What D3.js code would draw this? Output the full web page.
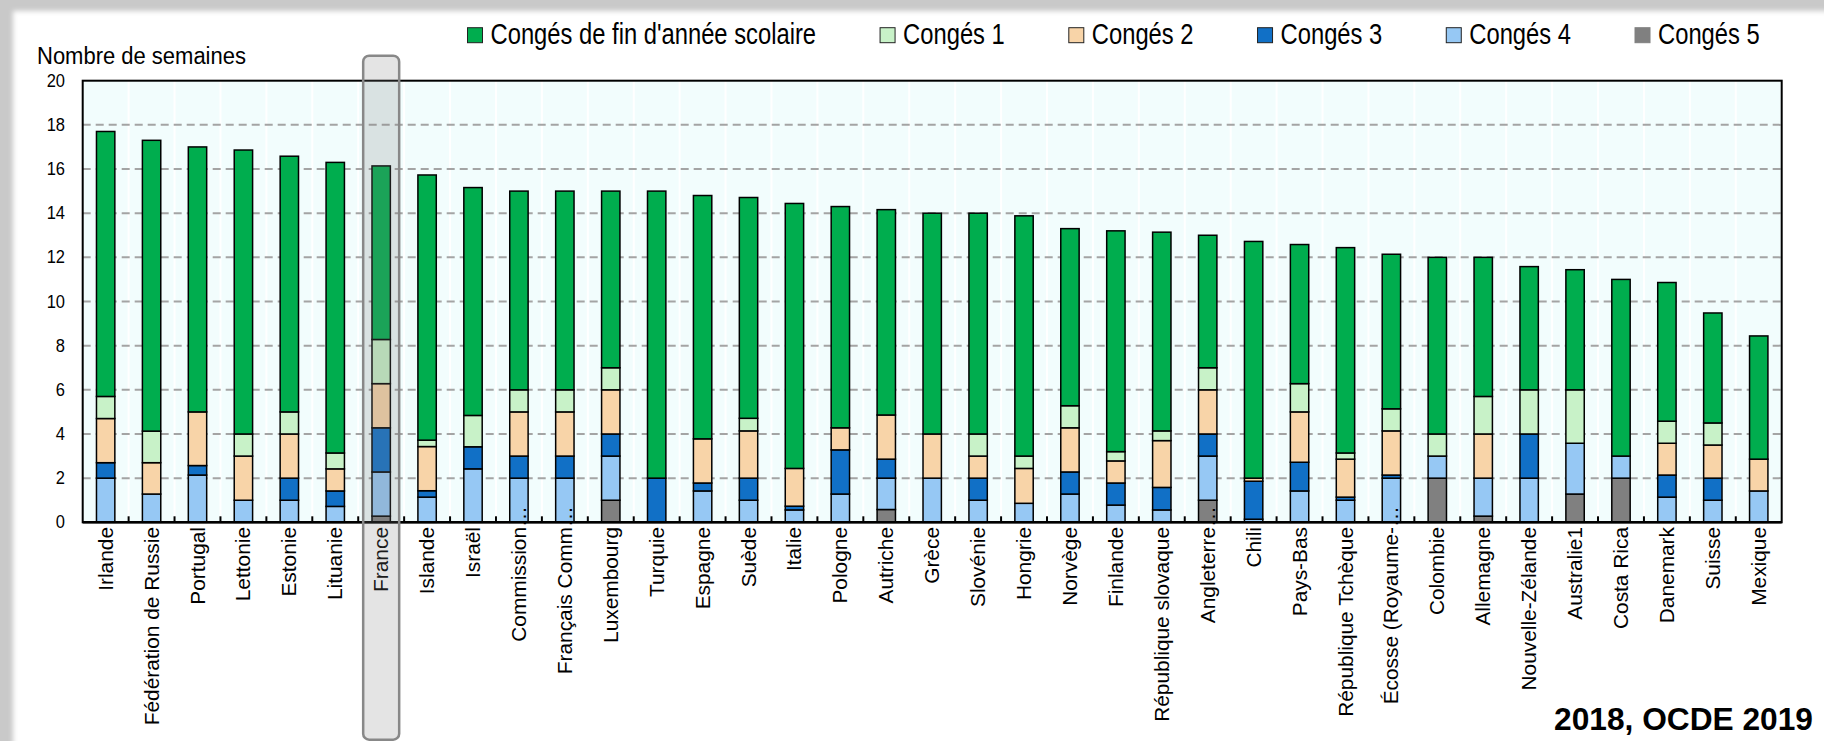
<!DOCTYPE html>
<html>
<head>
<meta charset="utf-8">
<script src="https://cdn.jsdelivr.net/npm/d3@7"></script>
<style>
  body { margin: 0; background: #fff; }
  svg { display: block; font-family: "Liberation Sans", Arial, sans-serif; }
</style>
</head>
<body>
<div id="chart"></div>
<script>
// data (weeks); stacked bottom -> top: c5, c4, c3, c2, c1, fin
var countries = ["Irlande", "Fédération de Russie", "Portugal", "Lettonie", "Estonie", "Lituanie", "France",
  "Islande", "Israël", "Commission…", "Français Comm…", "Luxembourg", "Turquie", "Espagne", "Suède", "Italie",
  "Pologne", "Autriche", "Grèce", "Slovénie", "Hongrie", "Norvège", "Finlande", "République slovaque",
  "Angleterre…", "Chili", "Pays-Bas", "République Tchèque", "Écosse (Royaume-…", "Colombie", "Allemagne",
  "Nouvelle-Zélande", "Australie1", "Costa Rica", "Danemark", "Suisse", "Mexique"];

var conges5 = [0, 0, 0, 0, 0, 0, 0.28, 0, 0, 0, 0, 1, 0, 0, 0, 0, 0, 0.58, 0, 0, 0, 0, 0, 0,
  1, 0, 0, 0, 0, 2, 0.28, 0, 1.28, 2, 0, 0, 0];
var conges4 = [2, 1.28, 2.14, 1, 1, 0.72, 2, 1.14, 2.42, 2, 2, 2, 0, 1.42, 1, 0.56, 1.28, 1.42, 2, 1, 0.86, 1.28, 0.78, 0.56,
  2, 0.14, 1.42, 1, 2, 1, 1.72, 2, 2.3, 1, 1.14, 1, 1.42];
var conges3 = [0.7, 0, 0.43, 0, 1, 0.7, 2, 0.29, 1, 1, 1, 1, 2, 0.36, 1, 0.17, 2, 0.86, 0, 1, 0, 1, 1, 1.02,
  1, 1.72, 1.3, 0.14, 0.14, 0, 0, 2, 0, 0, 1, 1, 0];
var conges2 = [2, 1.42, 2.43, 2, 2, 1, 2, 2, 0, 2, 2, 2, 0, 2, 2.14, 1.71, 1, 2, 2, 1, 1.58, 2, 1, 2.12,
  2, 0.14, 2.28, 1.72, 2, 0, 2, 0, 0, 0, 1.44, 1.5, 1.44];
var conges1 = [1, 1.43, 0, 1, 1, 0.72, 2, 0.29, 1.42, 1, 1, 1, 0, 0, 0.57, 0, 0, 0, 0, 1, 0.56, 1, 0.42, 0.44,
  1, 0, 1.28, 0.28, 1, 1, 1.7, 2, 2.42, 0, 1, 1, 0];
var finAnnee = [12, 13.17, 12, 12.86, 11.58, 13.16, 7.86, 12.01, 10.32, 9, 9, 8, 13, 11.02, 10, 12, 10.02, 9.3, 10, 10, 10.88, 8.02, 10, 9,
  6, 10.72, 6.3, 9.3, 7, 8, 6.3, 5.58, 5.44, 8, 6.28, 4.98, 5.58];

var seriesKeys = ["c5", "c4", "c3", "c2", "c1", "fin"];
var legendKeys = ["fin", "c1", "c2", "c3", "c4", "c5"];
var seriesNames = {fin: "Congés de fin d'année scolaire", c1: "Congés 1", c2: "Congés 2",
  c3: "Congés 3", c4: "Congés 4", c5: "Congés 5"};
var seriesColors = {fin: "#00ad4e", c1: "#c8f2c8", c2: "#f8d4a8", c3: "#1170c6", c4: "#96c8f4", c5: "#808080"};
var yTicks = [0, 2, 4, 6, 8, 10, 12, 14, 16, 18, 20];
var highlight = "France";

var rows = countries.map(function(c, i) {
  return {country: c, c5: conges5[i], c4: conges4[i], c3: conges3[i], c2: conges2[i], c1: conges1[i], fin: finAnnee[i]};
});

// svg
var W = 1824, H = 741;
var plot = {left: 82.7, right: 1781.7, top: 80.7, bottom: 522.3};
var stretch = 1.07; // the source picture is slightly taller than wide

var svg = d3.select("#chart").append("svg").attr("width", W).attr("height", H);

// frame with soft grey shadow
var defs = svg.append("defs");
defs.append("filter").attr("id", "soft").attr("x", "-5%").attr("y", "-5%").attr("width", "110%").attr("height", "110%")
  .append("feGaussianBlur").attr("stdDeviation", 2.5);
svg.append("rect").attr("width", W).attr("height", H).attr("fill", "#c9c9c9");
svg.append("rect").attr("x", 13).attr("y", 11).attr("width", W + 40).attr("height", H + 40)
  .attr("fill", "#fff").attr("filter", "url(#soft)");

// scales
var x = d3.scaleBand().domain(countries).range([plot.left, plot.right]).paddingInner(0.6).paddingOuter(0.3);
var y = d3.scaleLinear().domain([0, 20]).range([plot.bottom, plot.top]);

// plot background
svg.append("rect").attr("x", plot.left).attr("y", plot.top)
  .attr("width", plot.right - plot.left).attr("height", plot.bottom - plot.top).attr("fill", "#f2fdfd");

// faint vertical separators
svg.selectAll("sepLines").data(countries.slice(1)).enter().append("line")
  .attr("x1", function(d) { return x(d) - x.step() * x.paddingInner() / 2; })
  .attr("x2", function(d) { return x(d) - x.step() * x.paddingInner() / 2; })
  .attr("y1", plot.top).attr("y2", plot.bottom)
  .attr("stroke", "#ffffff").attr("stroke-width", 2);

// grid
svg.selectAll("gridLines").data(yTicks.filter(function(t) { return t > 0 && t < 20; })).enter().append("line")
  .attr("x1", plot.left).attr("x2", plot.right)
  .attr("y1", function(d) { return y(d); }).attr("y2", function(d) { return y(d); })
  .attr("stroke", "#a4a4a4").attr("stroke-width", 2).attr("stroke-dasharray", "8,5");

// y tick labels
svg.selectAll("yLabels").data(yTicks).enter().append("text")
  .attr("transform", function(d) { return "translate(65," + (y(d) + 6) + ") scale(1," + stretch + ")"; })
  .attr("text-anchor", "end").attr("font-size", 16.5).attr("fill", "#000")
  .text(function(d) { return d; });

svg.append("text").attr("transform", "translate(37,64) scale(1," + stretch + ")")
  .attr("font-size", 22).text("Nombre de semaines");

// stacked bars
var stacked = d3.stack().keys(seriesKeys)(rows);
var layers = svg.selectAll("layers").data(stacked).enter().append("g")
  .attr("fill", function(d) { return seriesColors[d.key]; });
layers.selectAll("rect").data(function(d) { return d.filter(function(s) { return s[1] - s[0] > 0; }); })
  .enter().append("rect")
  .attr("x", function(d) { return x(d.data.country); })
  .attr("width", x.bandwidth())
  .attr("y", function(d) { return y(d[1]); })
  .attr("height", function(d) { return y(d[0]) - y(d[1]); })
  .attr("stroke", "#000").attr("stroke-width", 1.5);

// frame and axes
svg.append("rect").attr("x", plot.left).attr("y", plot.top)
  .attr("width", plot.right - plot.left).attr("height", plot.bottom - plot.top)
  .attr("fill", "none").attr("stroke", "#000").attr("stroke-width", 2);
svg.append("line").attr("x1", plot.left).attr("x2", plot.right).attr("y1", plot.bottom).attr("y2", plot.bottom)
  .attr("stroke", "#000").attr("stroke-width", 2.5);
svg.selectAll("xTicks").data(countries.slice(1)).enter().append("line")
  .attr("x1", function(d) { return x(d) - x.step() * x.paddingInner() / 2; })
  .attr("x2", function(d) { return x(d) - x.step() * x.paddingInner() / 2; })
  .attr("y1", plot.bottom).attr("y2", plot.bottom - 6)
  .attr("stroke", "#000").attr("stroke-width", 2);

// x labels (rotated), trailing ellipsis runs up into the plot
var labelY = 527;
var xl = svg.selectAll("xLabels").data(countries).enter().append("g")
  .attr("transform", function(d) {
    return "translate(" + (x(d) + x.bandwidth() / 2) + "," + labelY + ") rotate(-90) scale(" + stretch + ",1)";
  });
xl.append("text").attr("text-anchor", "end").attr("dy", "0.36em").attr("font-size", 19.5)
  .text(function(d) { return d.replace("…", ""); });
xl.filter(function(d) { return d.indexOf("…") >= 0; }).append("text")
  .attr("text-anchor", "start").attr("dy", "0.36em").attr("font-size", 19.5).text("…");

// legend
var lx = 467.5;
legendKeys.forEach(function(k) {
  var g = svg.append("g").attr("transform", "translate(" + lx + ",0)");
  g.append("rect").attr("x", 0).attr("y", 27.7).attr("width", 15).attr("height", 15)
    .attr("fill", seriesColors[k]).attr("stroke", k === "c5" ? seriesColors[k] : "#222").attr("stroke-width", 1);
  var t = g.append("text").attr("transform", "translate(23,44) scale(0.82,1)")
    .attr("font-size", 29).text(seriesNames[k]);
  lx += 23 + t.node().getComputedTextLength() * 0.82 + 64;
});

// source
svg.append("text").attr("x", 1813).attr("y", 730).attr("text-anchor", "end")
  .attr("font-size", 31.7).attr("font-weight", "bold").text("2018, OCDE 2019");

// France highlight
var hx = x(highlight) + x.bandwidth() / 2;
svg.append("rect").attr("x", hx - 18).attr("y", 55.7).attr("width", 36).attr("height", 684)
  .attr("rx", 6).attr("ry", 6)
  .attr("fill", "rgba(128,128,128,0.21)").attr("stroke", "#888").attr("stroke-width", 2.5);
</script>
</body>
</html>
